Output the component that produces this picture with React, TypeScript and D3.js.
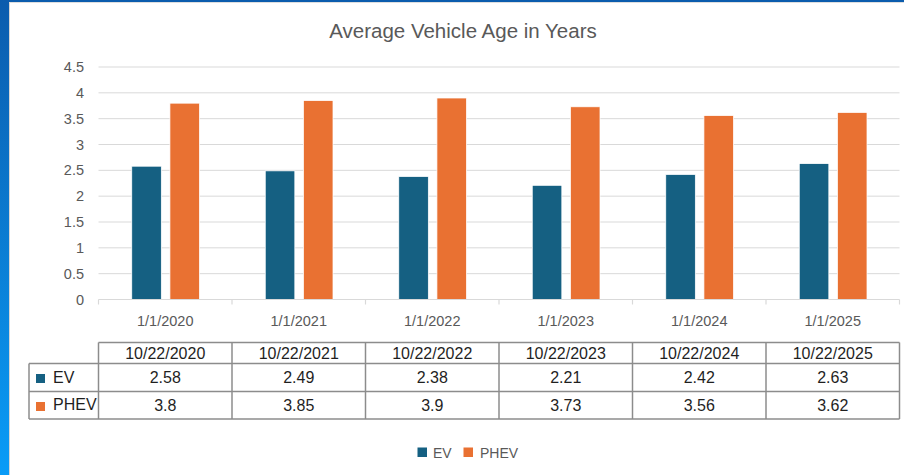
import * as React from 'react';
import * as d3 from 'd3';

const categories = ['1/1/2020', '1/1/2021', '1/1/2022', '1/1/2023', '1/1/2024', '1/1/2025'];
const tableHeaders = ['10/22/2020', '10/22/2021', '10/22/2022', '10/22/2023', '10/22/2024', '10/22/2025'];
const seriesNames = ['EV', 'PHEV'];
const evValues = [2.58, 2.49, 2.38, 2.21, 2.42, 2.63];
const phevValues = [3.8, 3.85, 3.9, 3.73, 3.56, 3.62];
const yTicks = [0, 0.5, 1, 1.5, 2, 2.5, 3, 3.5, 4, 4.5];

const colors = ['#156082', '#e97132'];
const W = 904;
const H = 475;
const plot = { left: 98.5, right: 899.5, top: 67, bottom: 299.5 };
const table = { left: 29, right: 899.5, head: 342.5, row1: 363.5, row2: 391.5, end: 419 };
const textGrey = '#595959';
const font = '"Liberation Sans", Arial, sans-serif';

export default function App() {
  const values = [evValues, phevValues];

  const x0 = d3.scaleBand<string>().domain(categories).range([plot.left, plot.right]).padding(0);
  const step = x0.step();
  const x1 = d3
    .scaleBand<string>()
    .domain(seriesNames)
    .range([33.25, step - 32.5])
    .paddingInner(0.225);
  const y = d3.scaleLinear().domain([0, 4.5]).range([plot.bottom, plot.top]);

  const rows = [table.row1, table.row2, table.end];

  return (
    <div style={{ position: 'absolute', left: 0, top: 0 }}>
      <svg width={W} height={H} style={{ display: 'block', fontFamily: font }}>
        <defs>
          <linearGradient id="edge" x1="0" y1="0" x2="0" y2="1">
            <stop offset="0%" stopColor="#0b5cad" />
            <stop offset="100%" stopColor="#0a9cf7" />
          </linearGradient>
        </defs>
        <rect x={0} y={0} width={W} height={H} fill="#fff" />
        {/* window frame */}
        <rect x={0} y={0} width={W} height={2} fill="#0b5cad" />
        <rect x={0} y={0} width={9} height={H} fill="url(#edge)" />
        <line x1={9.5} y1={2} x2={9.5} y2={H} stroke="#d6d6d6" strokeWidth={1} />
        <line x1={9} y1={2.5} x2={W} y2={2.5} stroke="#dedede" strokeWidth={1} />

        <text x={463} y={38} textAnchor="middle" fontSize={20.5} fill={textGrey}>
          Average Vehicle Age in Years
        </text>

        {/* gridlines + y labels */}
        {yTicks.map(t => (
          <g key={t}>
            {t > 0 && (
              <line x1={plot.left} x2={plot.right} y1={y(t)} y2={y(t)} stroke="#d9d9d9" strokeWidth={1} />
            )}
            <text x={84} y={y(t) + 5} textAnchor="end" fontSize={14.5} fill={textGrey}>
              {t}
            </text>
          </g>
        ))}

        {/* bars */}
        {categories.map((c, i) => (
          <g key={c} transform={`translate(${x0(c)},0)`}>
            {seriesNames.map((s, k) => (
              <rect
                key={s}
                x={x1(s)}
                y={y(values[k][i])}
                width={x1.bandwidth()}
                height={y(0) - y(values[k][i])}
                fill={colors[k]}
                stroke="#fff"
                strokeWidth={0.75}
              />
            ))}
          </g>
        ))}

        {/* x axis */}
        <line x1={plot.left} x2={plot.right} y1={plot.bottom} y2={plot.bottom} stroke="#d9d9d9" strokeWidth={1.2} />
        {categories.concat(['end']).map((c, i) => {
          const xx = plot.left + i * step;
          return <line key={c} x1={xx} x2={xx} y1={plot.bottom} y2={plot.bottom + 5} stroke="#d9d9d9" strokeWidth={1.2} />;
        })}
        {categories.map(c => (
          <text key={c} x={(x0(c) ?? 0) + step / 2} y={326} textAnchor="middle" fontSize={14.5} fill={textGrey}>
            {c}
          </text>
        ))}

        {/* data table */}
        <g stroke="#8c8c8c" strokeWidth={1.5} fill="none">
          <line x1={plot.left} x2={table.right} y1={table.head} y2={table.head} />
          <line x1={table.left} x2={table.right} y1={table.row1} y2={table.row1} />
          <line x1={table.left} x2={table.right} y1={table.row2} y2={table.row2} />
          <line x1={table.left} x2={table.right} y1={table.end} y2={table.end} />
          <line x1={table.left} x2={table.left} y1={table.row1} y2={table.end} />
          {categories.concat(['end']).map((c, i) => {
            const xx = plot.left + i * step;
            return <line key={c} x1={xx} x2={xx} y1={table.head} y2={table.end} />;
          })}
        </g>
        {tableHeaders.map((h, i) => (
          <text key={h} x={plot.left + (i + 0.5) * step} y={359} textAnchor="middle" fontSize={16} fill="#1f1f1f">
            {h}
          </text>
        ))}
        {seriesNames.map((s, k) => (
          <g key={s}>
            <rect x={36} y={(k === 0 ? table.row1 : table.row2) + 10.5} width={9} height={9} fill={colors[k]} />
            <text x={53} y={rows[k] + (k === 0 ? 19.5 : 18.5)} fontSize={16} fill="#1f1f1f">
              {s}
            </text>
            {values[k].map((v, i) => (
              <text
                key={i}
                x={plot.left + (i + 0.5) * step}
                y={(k === 0 ? table.row1 : table.row2) + 19.5}
                textAnchor="middle"
                fontSize={16}
                fill="#1f1f1f"
              >
                {v}
              </text>
            ))}
          </g>
        ))}

        {/* legend */}
        <g fontSize={14} fill={textGrey}>
          <rect x={417.5} y={447.5} width={9.5} height={9.5} fill={colors[0]} />
          <text x={433} y={457.5}>EV</text>
          <rect x={463.5} y={447.5} width={9.5} height={9.5} fill={colors[1]} />
          <text x={480} y={457.5}>PHEV</text>
        </g>
      </svg>
    </div>
  );
}
